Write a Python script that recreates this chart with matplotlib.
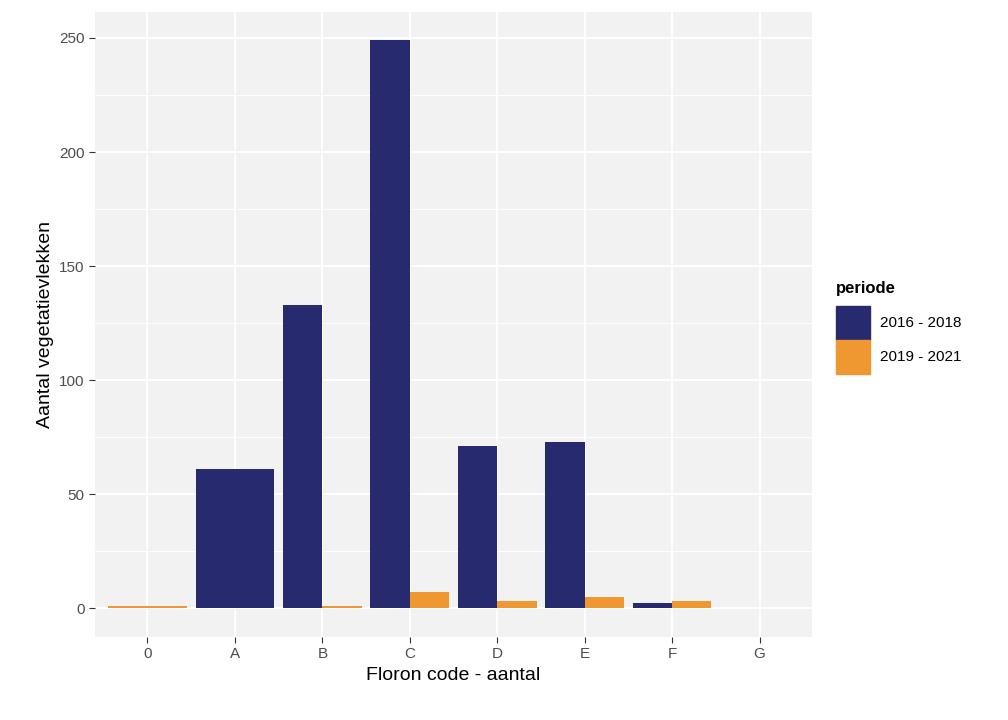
import matplotlib
matplotlib.use("Agg")
import matplotlib.pyplot as plt
from matplotlib.patches import Rectangle
import numpy as np

plt.rcParams["font.family"] = "Liberation Sans"

categories = ["0", "A", "B", "C", "D", "E", "F", "G"]
p2016 = [0, 61, 133, 249, 71, 73, 2, 0]
p2019 = [1, 0, 1, 7, 3, 5, 3, 0]
navy = "#272a6f"
orange = "#ef9730"

fig = plt.figure(figsize=(10.08, 7.2), dpi=100)
ax = fig.add_axes([95 / 1008, 83 / 720, 717 / 1008, 625 / 720])
ax.set_facecolor("#f2f2f2")

x = np.arange(len(categories))
for i in x:
    a, b = p2016[i], p2019[i]
    if a > 0 and b > 0:
        ax.bar(i - 0.225, a, 0.45, color=navy)
        ax.bar(i + 0.225, b, 0.45, color=orange)
    elif a > 0:
        ax.bar(i, a, 0.9, color=navy)
    elif b > 0:
        ax.bar(i, b, 0.9, color=orange)

ax.set_xlim(-0.6, 7.6)
ax.set_ylim(-12.7, 261.4)
ax.set_xticks(x)
ax.set_xticklabels(categories)
ax.set_yticks([0, 50, 100, 150, 200, 250])
ax.set_yticks([25, 75, 125, 175, 225], minor=True)
ax.grid(True, which="major", color="white", linewidth=1.4)
ax.grid(True, which="minor", axis="y", color="white", linewidth=0.7)
ax.set_axisbelow(True)
for s in ax.spines.values():
    s.set_visible(False)
ax.tick_params(which="both", length=4, color="#333333", labelsize=11, labelcolor="#4d4d4d")
ax.tick_params(which="minor", length=0)
ax.set_xlabel("Floron code - aantal", fontsize=14)
ax.set_ylabel("Aantal vegetatievlekken", fontsize=14)

fig.text(836 / 1008, 1 - 288 / 720, "periode", fontsize=12, fontweight="bold", va="center")
for k, (lab, col) in enumerate([("2016 - 2018", navy), ("2019 - 2021", orange)]):
    y0 = 1 - (306 + 34 * k + 34) / 720
    fig.patches.append(Rectangle((836 / 1008, y0), 34 / 1008, 34 / 720, transform=fig.transFigure, color=col))
    fig.text(880 / 1008, y0 + 17 / 720, lab, fontsize=11, va="center")

fig.savefig("out.png", dpi=100)
